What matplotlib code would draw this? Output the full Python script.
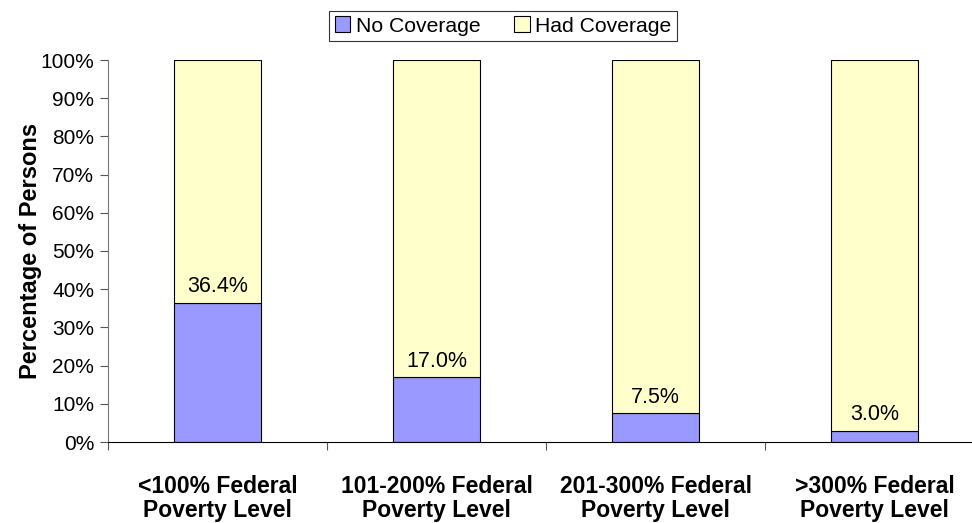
import numpy as np
import matplotlib.pyplot as plt
from matplotlib.ticker import FixedLocator, PercentFormatter

plt.rcParams['font.family'] = ['Liberation Sans', 'DejaVu Sans']

categories = ["<100% Federal\nPoverty Level", "101-200% Federal\nPoverty Level",
              "201-300% Federal\nPoverty Level", ">300% Federal\nPoverty Level"]
no_coverage = [36.4, 17.0, 7.5, 3.0]
had_coverage = [100 - v for v in no_coverage]

fig = plt.figure(figsize=(9.72, 5.23), dpi=100)
ax = fig.add_axes([108 / 972, 1 - 442 / 523, 876 / 972, 382 / 523])

x = np.arange(len(categories))
b1 = ax.bar(x, no_coverage, width=0.4, color="#9999FF", edgecolor="black",
            linewidth=0.8, label="No Coverage")
b2 = ax.bar(x, had_coverage, width=0.4, bottom=no_coverage, color="#FFFFCC",
            edgecolor="black", linewidth=0.8, label="Had Coverage")

for xi, v in zip(x, no_coverage):
    ax.annotate(f"{v:.1f}%", (xi, v), xytext=(0, 4), textcoords="offset points",
                ha="center", va="bottom", fontsize=15.5)

ax.set_xlim(-0.5, len(categories) - 0.5)
ax.set_ylim(0, 100)
ax.yaxis.set_major_locator(FixedLocator(np.arange(0, 101, 10)))
ax.yaxis.set_major_formatter(PercentFormatter(decimals=0))
ax.tick_params(axis="y", labelsize=15, length=6, width=0.8, color="#555555", pad=4)

ax.xaxis.set_major_locator(FixedLocator(np.arange(len(categories) + 1) - 0.5))
ax.xaxis.set_minor_locator(FixedLocator(x))
ax.set_xticklabels([], minor=False)
ax.set_xticklabels(categories, minor=True, fontsize=16.5, fontweight="bold",
                   linespacing=1.05)
ax.tick_params(axis="x", which="major", length=6, width=0.8, color="#555555")
ax.tick_params(axis="x", which="minor", length=0, pad=24)

ax.set_ylabel("Percentage of Persons", fontsize=17, fontweight="bold", labelpad=-1)

for s in ["top", "right"]:
    ax.spines[s].set_visible(False)
ax.spines["left"].set_color("#777777")
ax.spines["bottom"].set_color("black")

leg = fig.legend(handles=[b1, b2], loc="center", bbox_to_anchor=(503 / 972, 1 - 26 / 523),
                 ncol=2, fontsize=15.2, frameon=True, fancybox=False, edgecolor="black",
                 handlelength=0.75, handleheight=0.75, handletextpad=0.25,
                 columnspacing=1.6, borderpad=0.25)
leg.get_frame().set_linewidth(0.8)

fig.savefig("out.png", dpi=100)
